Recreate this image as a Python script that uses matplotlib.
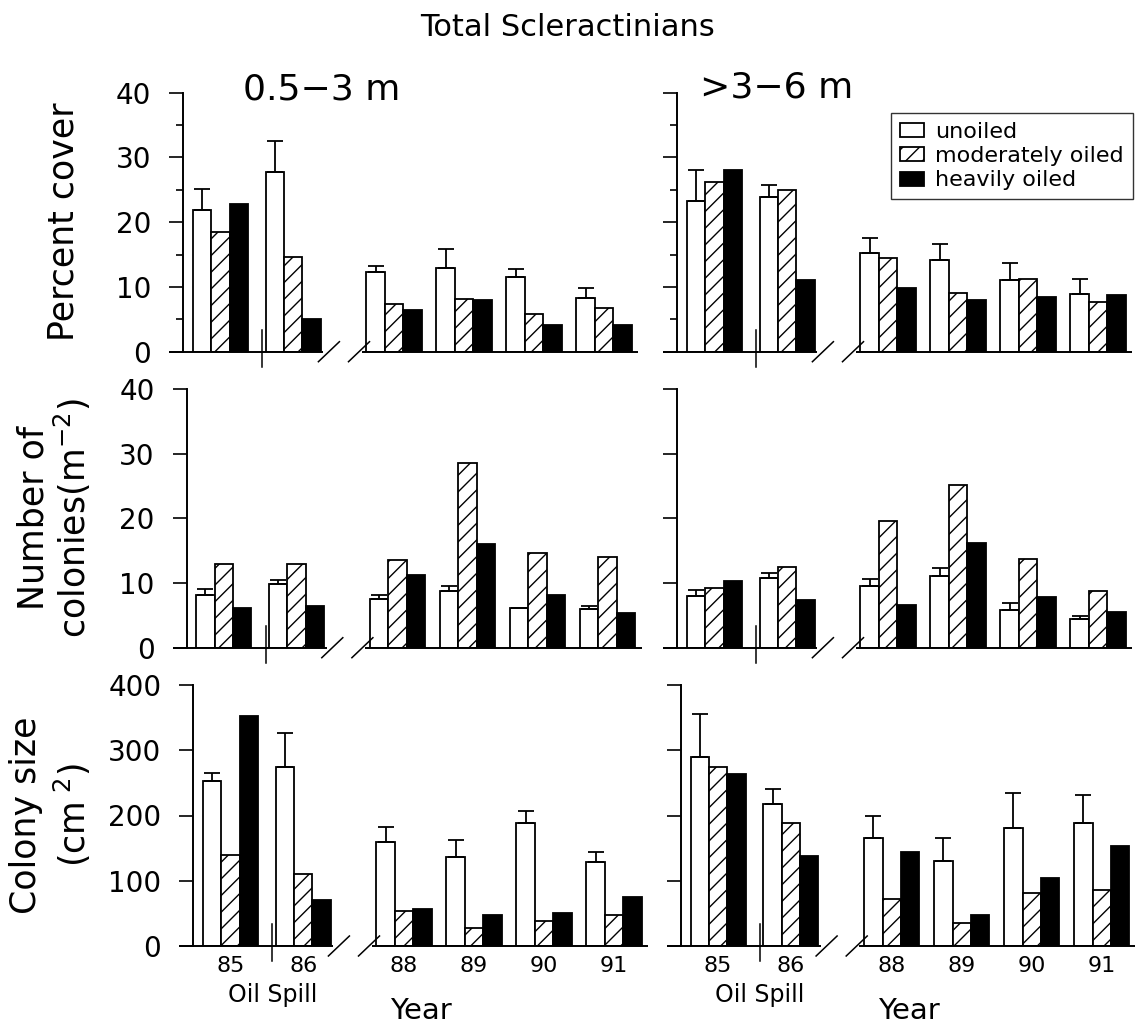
import matplotlib
matplotlib.use('Agg')
import matplotlib.pyplot as plt
import numpy as np

plt.rcParams['font.family'] = ['DejaVu Sans']
plt.rcParams['hatch.linewidth'] = 1.0

years = ['85', '86', '88', '89', '90', '91']

# percent cover, 0.5-3 m
cover_sh_un = [21.9, 27.8, 12.3, 12.9, 11.5, 8.3]
cover_sh_un_se = [3.3, 4.7, 0.9, 3.0, 1.2, 1.5]
cover_sh_mod = [18.5, 14.6, 7.3, 8.2, 5.8, 6.8]
cover_sh_hvy = [22.8, 5.0, 6.4, 8.0, 4.2, 4.2]
# percent cover, >3-6 m
cover_dp_un = [23.2, 23.9, 15.3, 14.2, 11.0, 8.9]
cover_dp_un_se = [4.8, 1.8, 2.3, 2.4, 2.7, 2.3]
cover_dp_mod = [26.2, 24.9, 14.5, 9.1, 11.3, 7.6]
cover_dp_hvy = [28.0, 11.0, 9.9, 8.0, 8.5, 8.8]

# colonies per m2
dens_sh_un = [8.2, 9.9, 7.5, 8.8, 6.1, 6.0]
dens_sh_un_se = [0.9, 0.6, 0.6, 0.8, 0.1, 0.4]
dens_sh_mod = [13.0, 13.0, 13.6, 28.5, 14.7, 14.0]
dens_sh_hvy = [6.2, 6.5, 11.2, 16.1, 8.2, 5.3]
dens_dp_un = [8.0, 10.8, 9.5, 11.1, 5.9, 4.5]
dens_dp_un_se = [0.9, 0.8, 1.1, 1.2, 1.0, 0.4]
dens_dp_mod = [9.3, 12.5, 19.6, 25.1, 13.7, 8.7]
dens_dp_hvy = [10.3, 7.4, 6.6, 16.2, 7.9, 5.5]

# colony size, cm2
size_sh_un = [253, 275, 159, 137, 188, 128]
size_sh_un_se = [12, 52, 23, 26, 19, 16]
size_sh_mod = [139, 110, 53, 28, 39, 47]
size_sh_hvy = [352, 71, 56, 48, 50, 75]
size_dp_un = [289, 217, 165, 131, 181, 189]
size_dp_un_se = [66, 23, 34, 35, 53, 43]
size_dp_mod = [275, 189, 72, 35, 81, 86]
size_dp_hvy = [264, 138, 144, 48, 104, 153]

# layout (pixels on a 1135x1026 canvas)
W, H = 1135.0, 1026.0
year_pos = np.array([0.53, 1.57, 3.01, 4.01, 5.01, 6.01])
bw = 0.262
xmin, xmax = -0.2, 6.5
px_per_unit = 70.0
ax_w = (xmax - xmin) * px_per_unit
brk_slash = [2.08, 2.51]
brk_tick = 1.13
lw = 1.3

rows = [
    dict(top=92.7, bot=351.7, ymax=40, step=10, minor=True, spines=[183.3, 677.3]),
    dict(top=389.0, bot=647.7, ymax=40, step=10, minor=False, spines=[186.7, 677.3]),
    dict(top=685.0, bot=946.0, ymax=400, step=100, minor=False, spines=[193.3, 681.0]),
]
panel_data = [
    [(cover_sh_un, cover_sh_un_se, cover_sh_mod, cover_sh_hvy),
     (cover_dp_un, cover_dp_un_se, cover_dp_mod, cover_dp_hvy)],
    [(dens_sh_un, dens_sh_un_se, dens_sh_mod, dens_sh_hvy),
     (dens_dp_un, dens_dp_un_se, dens_dp_mod, dens_dp_hvy)],
    [(size_sh_un, size_sh_un_se, size_sh_mod, size_sh_hvy),
     (size_dp_un, size_dp_un_se, size_dp_mod, size_dp_hvy)],
]

fig = plt.figure(figsize=(W / 100, H / 100), dpi=100)

legend_handles = None
for r, row in enumerate(rows):
    hpx = row['bot'] - row['top']
    ypp = row['ymax'] / hpx  # data units per pixel
    for c in range(2):
        un, un_se, mod, hvy = panel_data[r][c]
        left = row['spines'][c] - (0 - xmin) * px_per_unit
        ax = fig.add_axes([left / W, 1 - row['bot'] / H, ax_w / W, hpx / H])
        ax.set_xlim(xmin, xmax)
        ax.set_ylim(0, row['ymax'])
        for s in ['top', 'right', 'bottom']:
            ax.spines[s].set_visible(False)
        ax.spines['left'].set_position(('data', 0))
        ax.spines['left'].set_linewidth(1.4)

        b1 = ax.bar(year_pos - bw, un, bw, facecolor='white', edgecolor='k', linewidth=lw, zorder=2)
        b2 = ax.bar(year_pos, mod, bw, facecolor='white', edgecolor='k', hatch='//', linewidth=lw, zorder=2)
        b3 = ax.bar(year_pos + bw, hvy, bw, facecolor='k', edgecolor='k', linewidth=lw, zorder=2)
        ax.errorbar(year_pos - bw, un, yerr=[np.zeros(len(un)), un_se], fmt='none',
                    ecolor='k', elinewidth=lw, capsize=5.5, capthick=lw, zorder=3)
        if legend_handles is None:
            legend_handles = [b1, b2, b3]

        # broken baseline with slashes and the oil-spill mark
        ax.plot([xmin, 2.0], [0, 0], color='k', lw=1.4, clip_on=False, solid_capstyle='butt')
        ax.plot([2.55, xmax], [0, 0], color='k', lw=1.4, clip_on=False, solid_capstyle='butt')
        for xs in brk_slash:
            ax.plot([xs - 0.15, xs + 0.15], [-10 * ypp, 10 * ypp], color='k', lw=1.1, clip_on=False)
        ax.plot([brk_tick, brk_tick], [-15 * ypp, 22 * ypp], color='k', lw=1.1, clip_on=False)

        ax.set_yticks(np.arange(0, row['ymax'] + 1, row['step']))
        if row['minor']:
            ax.set_yticks(np.arange(row['step'] / 2, row['ymax'], row['step']), minor=True)
        ax.tick_params(axis='y', which='major', direction='out', length=10, width=1.2,
                       labelsize=20, pad=13)
        ax.tick_params(axis='y', which='minor', direction='out', length=5, width=1.2)
        if c == 1:
            ax.set_yticklabels([])

        ax.set_xticks(year_pos)
        ax.tick_params(axis='x', length=0, labelsize=16, pad=7)
        if r == 2:
            ax.set_xticklabels(years)
            ax.text(brk_tick, -49 * ypp, 'Oil Spill', fontsize=17, ha='center', va='center')
            ax.text(3.25, -65 * ypp, 'Year', fontsize=21, ha='center', va='center')
        else:
            ax.set_xticklabels([])

        if r == 0 and c == 1:
            leg = fig.legend(legend_handles, ['unoiled', 'moderately oiled', 'heavily oiled'],
                             loc='upper right', bbox_to_anchor=(1133 / W, 1 - 112.7 / H),
                             fontsize=16, frameon=True, fancybox=False, edgecolor='k',
                             handlelength=1.1, handleheight=0.6, handletextpad=0.5,
                             labelspacing=0.2, borderpad=0.4, borderaxespad=0)
            leg.get_frame().set_linewidth(1.0)

fig.text(567 / W, 1 - 28 / H, 'Total Scleractinians', fontsize=22, ha='center', va='center')
fig.text(322 / W, 1 - 89 / H, '0.5\u22123 m', fontsize=26, ha='center', va='center')
fig.text(777 / W, 1 - 87 / H, '>3\u22126 m', fontsize=26, ha='center', va='center')

fig.text(64 / W, 1 - 222 / H, 'Percent cover', fontsize=25, rotation=90, ha='center', va='center')
fig.text(34 / W, 1 - 518 / H, 'Number of', fontsize=25, rotation=90, ha='center', va='center')
fig.text(72 / W, 1 - 518 / H, r'colonies(m$^{-2}$)', fontsize=25, rotation=90, ha='center', va='center')
fig.text(26 / W, 1 - 815 / H, 'Colony size', fontsize=25, rotation=90, ha='center', va='center')
fig.text(72 / W, 1 - 815 / H, r'(cm$^{\ 2}$)', fontsize=25, rotation=90, ha='center', va='center')

fig.savefig('out.png', dpi=100)
